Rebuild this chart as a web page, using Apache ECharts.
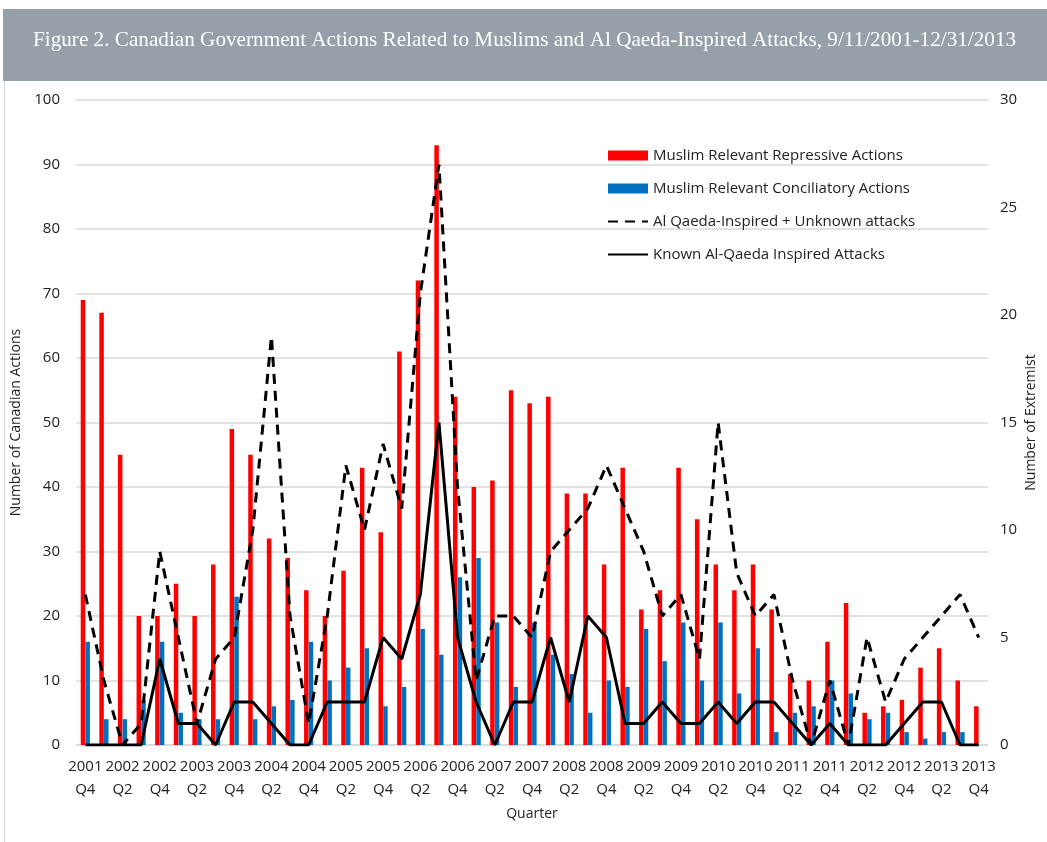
<!DOCTYPE html>
<html><head><meta charset="utf-8">
<script src="https://cdn.jsdelivr.net/npm/echarts@6/dist/echarts.min.js"></script>
<style>html,body{margin:0;padding:0;background:#fff}#c{width:1047px;height:842px}</style>
</head><body><div id="c"></div>
<script>
const quarters = [
 "2001 Q4",
 "2002 Q1","2002 Q2","2002 Q3","2002 Q4",
 "2003 Q1","2003 Q2","2003 Q3","2003 Q4",
 "2004 Q1","2004 Q2","2004 Q3","2004 Q4",
 "2005 Q1","2005 Q2","2005 Q3","2005 Q4",
 "2006 Q1","2006 Q2","2006 Q3","2006 Q4",
 "2007 Q1","2007 Q2","2007 Q3","2007 Q4",
 "2008 Q1","2008 Q2","2008 Q3","2008 Q4",
 "2009 Q1","2009 Q2","2009 Q3","2009 Q4",
 "2010 Q1","2010 Q2","2010 Q3","2010 Q4",
 "2011 Q1","2011 Q2","2011 Q3","2011 Q4",
 "2012 Q1","2012 Q2","2012 Q3","2012 Q4",
 "2013 Q1","2013 Q2","2013 Q3","2013 Q4"
];
const repressive = [69,67,45,20,20,25,20,28,49,45,32,29,24,20,27,43,33,61,72,93,54,40,41,55,53,54,39,39,28,43,21,24,43,35,28,24,28,21,11,10,16,22,5,6,7,12,15,10,6];
const conciliatory = [16,4,4,7,16,5,4,4,23,4,6,7,16,10,12,15,6,9,18,14,26,29,19,9,19,14,11,5,10,9,18,13,19,10,19,8,15,2,5,6,10,8,4,5,2,1,2,2,0];
const aqPlusUnknown = [7,3,0,1,9,5,1,4,5,10,19,6,1,6,13,10,14,11,21,27,12,3,6,6,5,9,10,11,13,11,9,6,7,4,15,8,6,7,3,0,3,0,5,2,4,5,6,7,5];
const knownAQ = [0,0,0,0,4,1,1,0,2,2,1,0,0,2,2,2,5,4,7,15,5,2,0,2,2,5,2,6,5,1,1,2,1,1,2,1,2,2,1,0,1,0,0,0,1,2,2,0,0];
const leftTicks = [0,100,10];
const rightTicks = [0,30,5];
const titleText = "Figure 2. Canadian Government Actions Related to Muslims and Al Qaeda-Inspired Attacks, 9/11/2001-12/31/2013";
const seriesNames = ["Muslim Relevant Repressive Actions","Muslim Relevant Conciliatory Actions","Al Qaeda-Inspired + Unknown attacks","Known Al-Qaeda Inspired Attacks"];

const chart = echarts.init(document.getElementById('c'), null, {renderer:'canvas'});
const FONT = "'Open Sans', 'Noto Sans', sans-serif";
chart.setOption({
  animation:false,
  textStyle:{fontFamily:FONT},
  graphic:[
    {type:'rect', shape:{x:3,y:9,width:1044,height:72}, style:{fill:'#97a0a9'}, z:0},
    {type:'line', shape:{x1:4.5,y1:81,x2:4.5,y2:842}, style:{stroke:'#d0d4d8',lineWidth:1}},
    {type:'text', left:33, top:30, style:{text:titleText, fill:'#ffffff', font:"21.2px 'Liberation Serif', 'DejaVu Serif', serif"}}
  ],
  grid:{left:76,right:59,top:100,bottom:97,containLabel:false,outerBoundsMode:'none'},
  legend:{
    orient:'vertical', left:607, top:148, padding:0, itemWidth:40, itemHeight:10, itemGap:18,
    textStyle:{fontSize:15,color:'#222',fontFamily:FONT},
    data:[
      {name:seriesNames[0],icon:'rect'},
      {name:seriesNames[1],icon:'rect'},
      {name:seriesNames[2],itemStyle:{opacity:0}},
      {name:seriesNames[3],itemStyle:{opacity:0}}
    ]
  },
  xAxis:{
    type:'category', data:quarters, name:'Quarter', nameLocation:'middle', nameGap:62,
    nameTextStyle:{fontSize:14,color:'#222'},
    axisLine:{show:true,lineStyle:{color:'#d9d9d9',width:1.5}},
    axisTick:{show:false},
    axisLabel:{interval:1,fontSize:15,color:'#222',lineHeight:23,margin:10,
      formatter:v=>v.replace(' ','\n')}
  },
  yAxis:[
    {type:'value', min:leftTicks[0], max:leftTicks[1], interval:leftTicks[2],
     name:'Number of Canadian Actions', nameLocation:'middle', nameGap:47,
     nameTextStyle:{fontSize:14,color:'#222'},
     axisLine:{show:false}, axisTick:{show:false},
     axisLabel:{fontSize:15,color:'#222',margin:16},
     splitLine:{lineStyle:{color:'#d9d9d9',width:1.5}}},
    {type:'value', min:rightTicks[0], max:rightTicks[1], interval:rightTicks[2],
     name:'Number of Extremist\nEvents', nameLocation:'middle', nameGap:32, nameRotate:90,
     nameMoveOverlap:false,
     nameTextStyle:{fontSize:14,color:'#222',lineHeight:22},
     axisLine:{show:false}, axisTick:{show:false},
     axisLabel:{fontSize:15,color:'#222',margin:12},
     splitLine:{show:false}}
  ],
  series:[
    {name:seriesNames[0], type:'bar', data:repressive, barWidth:4.5, barGap:'4%', itemStyle:{color:'#ff0000'}},
    {name:seriesNames[1], type:'bar', data:conciliatory, barWidth:4.5, barGap:'4%', itemStyle:{color:'#0070c0'}},
    {name:seriesNames[2], type:'line', yAxisIndex:1, data:aqPlusUnknown, symbol:'none',
     lineStyle:{color:'#000',width:3,type:[10,7]}, itemStyle:{color:'#000'}, z:5},
    {name:seriesNames[3], type:'line', yAxisIndex:1, data:knownAQ, symbol:'none',
     lineStyle:{color:'#000',width:3,type:'solid'}, itemStyle:{color:'#000'}, z:5}
  ]
});
</script></body></html>
